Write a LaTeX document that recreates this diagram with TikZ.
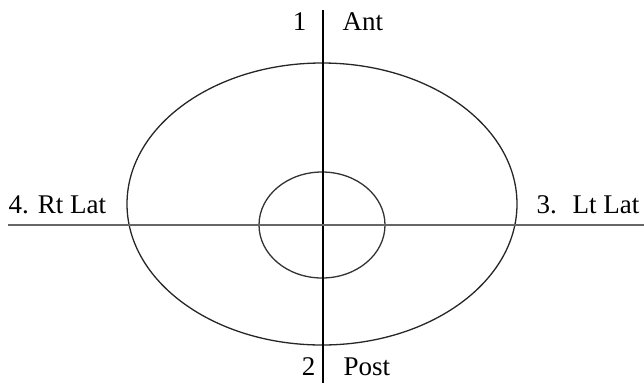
\documentclass[tikz,border=0pt]{standalone}
\usepackage{fontspec}
\setmainfont{Liberation Serif}
\usepackage{tikz}
\usepackage{xcolor}

\begin{document}
\begin{tikzpicture}[x=1pt, y=-1pt, line width=1.3pt,
    lbl/.style={font=\fontsize{27}{30}\selectfont, inner sep=0pt}]
    \useasboundingbox (0,0) rectangle (644,383);
    % outer and inner rings
    \coordinate (outer) at (322,204);
    \coordinate (inner) at (322,225);
    \draw[black!85] (outer) ellipse [x radius=195pt, y radius=141pt];
    \draw[black!80] (inner) ellipse [x radius=63pt, y radius=53pt];
    % axes
    \coordinate (ant) at (323,10);
    \coordinate (post) at (323,383);
    \coordinate (rt) at (8,225);
    \coordinate (lt) at (644,225);
    \draw (ant) -- (post);
    \draw[black!60] (rt) -- (lt);
    % labels
    \node[lbl, anchor=base east] (one) at (307,30) {1};
    \node[lbl, anchor=base west] (antlbl) at (342,30) {Ant};
    \node[lbl, anchor=base east] (two) at (316,375) {2};
    \node[lbl, anchor=base west] (postlbl) at (343,375) {Post};
    \node[lbl, anchor=base west] (four) at (8,213) {4. Rt Lat};
    \node[lbl, anchor=base west] (three) at (536,213) {3.~ Lt Lat};
\end{tikzpicture}
\end{document}
